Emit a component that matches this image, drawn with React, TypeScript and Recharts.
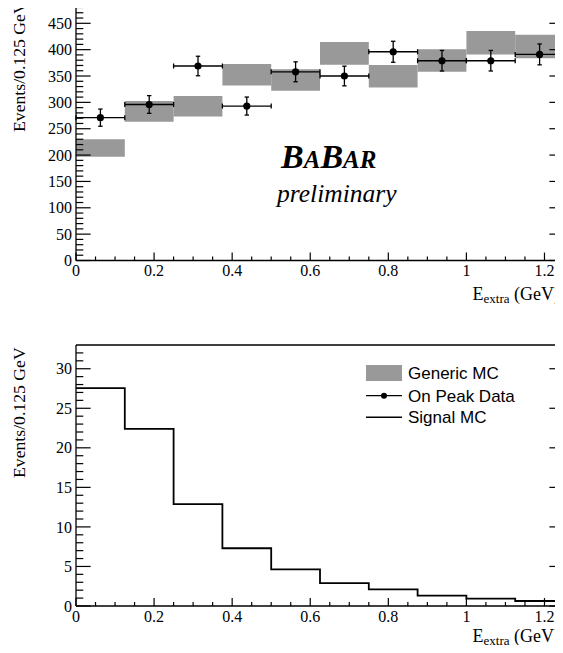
import { ComposedChart, XAxis, YAxis, Scatter, ErrorBar, ReferenceArea, Line, Legend } from "recharts";

// E_extra bins (GeV)
const binLow = [0, 0.125, 0.25, 0.375, 0.5, 0.625, 0.75, 0.875, 1.0, 1.125];
const binHigh = [0.125, 0.25, 0.375, 0.5, 0.625, 0.75, 0.875, 1.0, 1.125, 1.25];

// top panel
const genericMC = [213.5, 283, 292.5, 352.5, 342.5, 393, 349.5, 379.5, 413, 406];
const genericMCErr = [16.5, 19.6, 19.5, 20.5, 20.5, 21.5, 21.5, 21.5, 22.3, 22.4];
const onPeakData = [271, 296, 369, 293, 358, 350, 396, 379, 379, 391];
const onPeakErr = [16.3, 16.8, 18.5, 17.1, 18.9, 18.7, 19.9, 19.5, 19.5, 19.8];

// bottom panel
const signalMC = [27.55, 22.4, 12.87, 7.3, 4.64, 2.9, 2.1, 1.3, 0.93, 0.63];

const xLabels = [0, 0.2, 0.4, 0.6, 0.8, 1, 1.2];
const topYLabels = [0, 50, 100, 150, 200, 250, 300, 350, 400, 450];
const bottomYLabels = [0, 5, 10, 15, 20, 25, 30];

const legendItems = ["Generic MC", "On Peak Data", "Signal MC"];

const GREY = "#999999";
const SERIF = "'Liberation Serif', 'Times New Roman', serif";
const SANS = "'Liberation Sans', Arial, sans-serif";
const AXIS = { stroke: "#000", strokeWidth: 1.3 };

// minor tick positions
const xTicks = Array.from({ length: 25 }, (_, i) => Math.round(i * 5) / 100);
const topYTicks = Array.from({ length: 50 }, (_, i) => i * 10);
const bottomYTicks = Array.from({ length: 33 }, (_, i) => i);

const dataPoints = onPeakData.map((y, i) => ({
  x: (binLow[i] + binHigh[i]) / 2,
  y,
  ex: (binHigh[i] - binLow[i]) / 2,
  ey: onPeakErr[i],
}));

const signalSteps = binLow
  .map((x, i) => ({ x, y: signalMC[i] }))
  .concat({ x: binHigh[binHigh.length - 1], y: signalMC[signalMC.length - 1] });

const near = (v: number, list: number[]) => list.some((l) => Math.abs(l - v) < 1e-6);
const fmt = (v: number) => String(Math.round(v * 10) / 10);

const tickText = { fontFamily: SERIF, fontSize: 16, fill: "#000" };

const makeTick = (side: "bottom" | "top" | "left" | "right", labels: number[], major: number, minor: number) =>
  (props: any) => {
    const { x, y, payload } = props;
    const isMajor = near(payload.value, labels);
    const len = isMajor ? major : minor;
    if (side === "bottom") {
      return (
        <g>
          <line x1={x} y1={y} x2={x} y2={y - len} stroke="#000" strokeWidth={1.2} />
          {isMajor && (
            <text x={x} y={y + 15.5} textAnchor="middle" {...tickText}>
              {fmt(payload.value)}
            </text>
          )}
        </g>
      );
    }
    if (side === "top") {
      return <line x1={x} y1={y} x2={x} y2={y + len} stroke="#000" strokeWidth={1.2} />;
    }
    if (side === "left") {
      return (
        <g>
          <line x1={x} y1={y} x2={x + len} y2={y} stroke="#000" strokeWidth={1.2} />
          {isMajor && (
            <text x={x - 4} y={y} dy="0.35em" textAnchor="end" {...tickText}>
              {fmt(payload.value)}
            </text>
          )}
        </g>
      );
    }
    return <line x1={x} y1={y} x2={x - len} y2={y} stroke="#000" strokeWidth={1.2} />;
  };

const xTitle = (baseline: number) => () => (
  <text x={560} y={baseline} textAnchor="end" fontFamily={SERIF} fontSize={18} fill="#000">
    E
    <tspan fontSize={13} dy={3}>extra</tspan>
    <tspan dy={-3}> (GeV)</tspan>
  </text>
);

const yTitle = (start: number) => () => (
  <text
    x={25}
    y={start}
    transform={`rotate(-90, 25, ${start})`}
    textAnchor="start"
    fontFamily={SERIF}
    fontSize={17.7}
    fill="#000"
  >
    Events/0.125 GeV
  </text>
);

const axisCommon = {
  type: "number" as const,
  tickLine: false,
  tickSize: 0,
  tickMargin: 0,
  interval: 0 as const,
  axisLine: AXIS,
  allowDataOverflow: true,
};

const LegendContent = () => (
  <svg width={170} height={64} style={{ display: "block", overflow: "visible" }}>
    <rect x={0} y={0} width={36} height={16} fill={GREY} />
    <line x1={0} x2={36} y1={30.7} y2={30.7} stroke="#000" strokeWidth={1.3} />
    <circle cx={18} cy={30.7} r={3} fill="#000" />
    <line x1={0} x2={36} y1={52.3} y2={52.3} stroke="#000" strokeWidth={1.6} />
    {legendItems.map((t, i) => (
      <text key={t} x={42} y={[8, 30.7, 52.3][i]} dy="0.36em" fontFamily={SANS} fontSize={17} fill="#000">
        {t}
      </text>
    ))}
  </svg>
);

const CHART_W = 570;
const TOP_H = 330.5;
const BOTTOM_H = 316;

export default function App() {
  return (
    <div style={{ position: "relative", width: 563, height: 653, margin: -8, overflow: "hidden", background: "#fff" }}>
      <div style={{ position: "absolute", left: 0, top: -10, width: CHART_W, height: TOP_H }}>
        <ComposedChart width={CHART_W} height={TOP_H} margin={{ top: 0, right: 0, bottom: 0, left: 0 }}>
          <XAxis
            {...axisCommon}
            xAxisId={0}
            dataKey="x"
            domain={[0, 1.25]}
            ticks={xTicks}
            height={60}
            tick={makeTick("bottom", xLabels, 7.9, 4)}
            label={xTitle(310)}
          />
          <XAxis
            {...axisCommon}
            xAxisId="t"
            orientation="top"
            domain={[0, 1.25]}
            ticks={xTicks}
            height={8}
            tick={makeTick("top", xLabels, 7.9, 4)}
          />
          <YAxis
            {...axisCommon}
            yAxisId={0}
            domain={[0, 498]}
            ticks={topYTicks}
            width={76}
            tick={makeTick("left", topYLabels, 14.6, 7.3)}
            label={yTitle(142)}
          />
          <YAxis
            {...axisCommon}
            yAxisId="r"
            orientation="right"
            domain={[0, 498]}
            ticks={topYTicks}
            width={6}
            tick={makeTick("right", topYLabels, 14.6, 7.3)}
          />
          {genericMC.map((v, i) => (
            <ReferenceArea
              key={i}
              xAxisId={0}
              yAxisId={0}
              x1={binLow[i]}
              x2={binHigh[i]}
              y1={v - genericMCErr[i]}
              y2={v + genericMCErr[i]}
              fill={GREY}
              fillOpacity={1}
              stroke="none"
              ifOverflow="visible"
            />
          ))}
          <Scatter
            xAxisId={0}
            yAxisId={0}
            data={dataPoints}
            dataKey="y"
            isAnimationActive={false}
            shape={(p: any) => <circle cx={p.cx} cy={p.cy} r={3.6} fill="#000" />}
          >
            <ErrorBar dataKey="ex" direction="x" width={2.5} stroke="#000" strokeWidth={1.3} />
            <ErrorBar dataKey="ey" direction="y" width={2.2} stroke="#000" strokeWidth={1.3} />
          </Scatter>
        </ComposedChart>
      </div>

      <div style={{ position: "absolute", left: 0, top: 337, width: CHART_W, height: BOTTOM_H }}>
        <ComposedChart width={CHART_W} height={BOTTOM_H} margin={{ top: 0, right: 0, bottom: 0, left: 0 }}>
          <XAxis
            {...axisCommon}
            xAxisId={0}
            dataKey="x"
            domain={[0, 1.25]}
            ticks={xTicks}
            height={47}
            tick={makeTick("bottom", xLabels, 7.9, 4)}
            label={xTitle(304.7)}
          />
          <XAxis
            {...axisCommon}
            xAxisId="t"
            orientation="top"
            domain={[0, 1.25]}
            ticks={xTicks}
            height={8}
            tick={makeTick("top", xLabels, 7.9, 4)}
          />
          <YAxis
            {...axisCommon}
            yAxisId={0}
            domain={[0, 33]}
            ticks={bottomYTicks}
            width={76}
            tick={makeTick("left", bottomYLabels, 14.6, 7.3)}
            label={yTitle(141)}
          />
          <YAxis
            {...axisCommon}
            yAxisId="r"
            orientation="right"
            domain={[0, 33]}
            ticks={bottomYTicks}
            width={6}
            tick={makeTick("right", bottomYLabels, 14.6, 7.3)}
          />
          <Line
            xAxisId={0}
            yAxisId={0}
            data={signalSteps}
            dataKey="y"
            type="stepAfter"
            stroke="#000"
            strokeWidth={1.8}
            dot={false}
            isAnimationActive={false}
          />
          <Legend
            layout="vertical"
            align="center"
            verticalAlign="middle"
            wrapperStyle={{ left: 366, top: 28, width: 170 }}
            content={() => <LegendContent />}
          />
        </ComposedChart>
      </div>

      <svg width={563} height={653} style={{ position: "absolute", left: 0, top: 0, pointerEvents: "none" }}>
        <text x={281} y={168} fontFamily={SERIF} fontWeight="bold" fontStyle="italic" fill="#000">
          <tspan fontSize={34}>B</tspan>
          <tspan fontSize={25}>A</tspan>
          <tspan fontSize={34}>B</tspan>
          <tspan fontSize={25}>AR</tspan>
        </text>
        <text x={277} y={202} fontFamily={SERIF} fontStyle="italic" fontSize={25.5} fill="#000">
          preliminary
        </text>
      </svg>
    </div>
  );
}
